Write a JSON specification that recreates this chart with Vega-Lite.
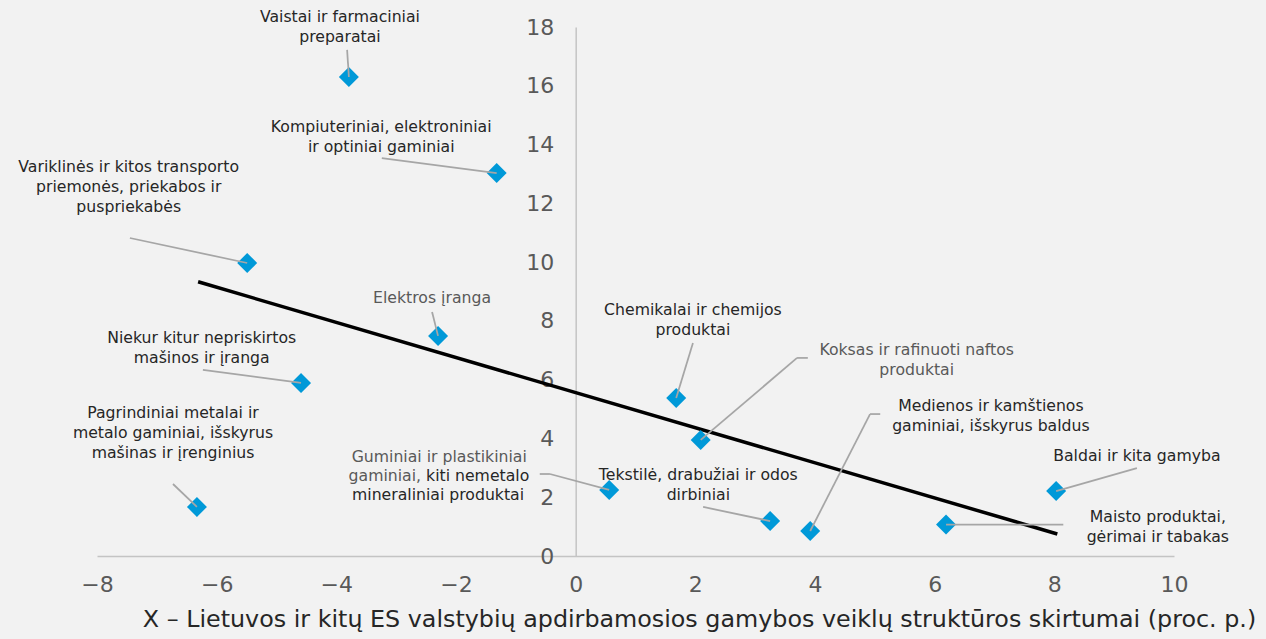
{
  "$schema": "https://vega.github.io/schema/vega-lite/v6.json",
  "width": 1077,
  "height": 529,
  "autosize": {"type": "none"},
  "padding": {"left": 97, "top": 27, "right": 92, "bottom": 83},
  "background": "#f2f2f2",
  "config": {"view": {"stroke": null}, "font": "DejaVu Sans"},
  "datasets": {
    "trend": [
      {"x": -6.31, "y": 9.33},
      {"x": 8.05, "y": 0.75}
    ],
    "points": [
      {"name": "Vaistai ir farmaciniai preparatai", "x": -3.79, "y": 16.30},
      {"name": "Kompiuteriniai, elektroniniai ir optiniai gaminiai", "x": -1.32, "y": 13.03},
      {"name": "Variklinės ir kitos transporto priemonės, priekabos ir puspriekabės", "x": -5.49, "y": 9.97},
      {"name": "Elektros įranga", "x": -2.30, "y": 7.49},
      {"name": "Niekur kitur nepriskirtos mašinos ir įranga", "x": -4.59, "y": 5.89},
      {"name": "Pagrindiniai metalai ir metalo gaminiai, išskyrus mašinas ir įrenginius", "x": -6.33, "y": 1.67},
      {"name": "Guminiai ir plastikiniai gaminiai, kiti nemetalo mineraliniai produktai", "x": 0.56, "y": 2.25},
      {"name": "Chemikalai ir chemijos produktai", "x": 1.68, "y": 5.38},
      {"name": "Koksas ir rafinuoti naftos produktai", "x": 2.09, "y": 3.95},
      {"name": "Tekstilė, drabužiai ir odos dirbiniai", "x": 3.25, "y": 1.19},
      {"name": "Medienos ir kamštienos gaminiai, išskyrus baldus", "x": 3.92, "y": 0.85},
      {"name": "Maisto produktai, gėrimai ir tabakas", "x": 6.19, "y": 1.07},
      {"name": "Baldai ir kita gamyba", "x": 8.03, "y": 2.21}
    ],
    "leaders": [
      {"x": -3.82, "y": 17.22, "x2": -3.79, "y2": 16.30},
      {"x": -3.24, "y": 13.54, "x2": -1.32, "y2": 13.03},
      {"x": -7.45, "y": 10.82, "x2": -5.49, "y2": 9.97},
      {"x": -6.23, "y": 6.33, "x2": -4.59, "y2": 5.89},
      {"x": -6.73, "y": 2.45, "x2": -6.33, "y2": 1.67},
      {"x": -2.40, "y": 8.30, "x2": -2.30, "y2": 7.49},
      {"x": 1.96, "y": 7.25, "x2": 1.68, "y2": 5.38},
      {"x": 2.09, "y": 3.95, "x2": 3.70, "y2": 6.74},
      {"x": 3.70, "y": 6.74, "x2": 3.88, "y2": 6.74},
      {"x": 3.92, "y": 0.85, "x2": 4.92, "y2": 4.83},
      {"x": 4.92, "y": 4.83, "x2": 5.09, "y2": 4.83},
      {"x": 2.13, "y": 1.67, "x2": 3.25, "y2": 1.19},
      {"x": -0.60, "y": 2.79, "x2": -0.43, "y2": 2.79},
      {"x": -0.43, "y": 2.79, "x2": 0.56, "y2": 2.25},
      {"x": 6.19, "y": 1.07, "x2": 8.15, "y2": 1.07},
      {"x": 9.38, "y": 2.99, "x2": 8.03, "y2": 2.21}
    ],
    "labels": [
      {"text": "Vaistai ir farmaciniai\npreparatai", "x": -3.94, "y": 18.34, "tone": "dark", "align": "center"},
      {"text": "Kompiuteriniai, elektroniniai\nir optiniai gaminiai", "x": -3.25, "y": 14.60, "tone": "dark", "align": "center"},
      {"text": "Variklinės  ir kitos transporto\npriemonės, priekabos ir\npuspriekabės", "x": -7.47, "y": 13.24, "tone": "dark", "align": "center"},
      {"text": "Elektros įranga", "x": -2.40, "y": 8.78, "tone": "gray", "align": "center"},
      {"text": "Niekur kitur nepriskirtos\nmašinos ir įranga", "x": -6.25, "y": 7.42, "tone": "dark", "align": "center"},
      {"text": "Pagrindiniai metalai ir\nmetalo gaminiai, išskyrus\nmašinas ir įrenginius", "x": -6.73, "y": 4.87, "tone": "dark", "align": "center"},
      {"text": "Chemikalai ir chemijos\nproduktai", "x": 1.96, "y": 8.37, "tone": "dark", "align": "center"},
      {"text": "Koksas ir rafinuoti naftos\nproduktai", "x": 5.70, "y": 7.01, "tone": "gray", "align": "center"},
      {"text": "Medienos ir kamštienos\ngaminiai, išskyrus baldus", "x": 6.94, "y": 5.10, "tone": "dark", "align": "center"},
      {"text": "Baldai ir kita gamyba", "x": 9.38, "y": 3.40, "tone": "dark", "align": "center"},
      {"text": "Maisto produktai,\ngėrimai ir tabakas", "x": 9.73, "y": 1.33, "tone": "dark", "align": "center"},
      {"text": "Tekstilė, drabužiai ir odos\ndirbiniai", "x": 2.05, "y": 2.76, "tone": "dark", "align": "center"},
      {"text": "Guminiai ir plastikiniai", "x": -2.28, "y": 3.37, "tone": "gray", "align": "center"},
      {"text": "gaminiai,", "x": -2.55, "y": 2.72, "tone": "gray", "align": "right"},
      {"text": "kiti nemetalo", "x": -2.55, "y": 2.72, "tone": "dark", "align": "left"},
      {"text": "mineraliniai produktai", "x": -2.30, "y": 2.08, "tone": "dark", "align": "center"}
    ]
  },
  "layer": [
    {
      "data": {"name": "trend"},
      "mark": {"type": "line", "color": "#000000", "strokeWidth": 3.5},
      "encoding": {
        "x": {
          "field": "x", "type": "quantitative",
          "scale": {"domain": [-8, 10], "nice": false, "zero": false},
          "axis": {
            "title": "X – Lietuvos ir kitų ES valstybių apdirbamosios gamybos veiklų struktūros skirtumai (proc. p.)",
            "values": [-8, -6, -4, -2, 0, 2, 4, 6, 8, 10],
            "format": "d",
            "grid": false, "ticks": false,
            "domainColor": "#c4c4c4", "domainWidth": 1.5,
            "labelFont": "DejaVu Sans", "labelFontSize": 22, "labelColor": "#595959",
            "labelPadding": 18, "labelOverlap": false, "labelFlush": false, "labelBound": false,
            "titleFont": "DejaVu Sans", "titleFontSize": 23.8, "titleFontWeight": "normal",
            "titleColor": "#262626", "titlePadding": 12, "titleX": 602
          }
        },
        "y": {
          "field": "y", "type": "quantitative",
          "scale": {"domain": [0, 18], "nice": false, "zero": false},
          "axis": {
            "title": null,
            "values": [0, 2, 4, 6, 8, 10, 12, 14, 16, 18],
            "format": "d",
            "grid": false, "ticks": false, "offset": -478.7,
            "domainColor": "#c4c4c4", "domainWidth": 1.5,
            "labelFont": "DejaVu Sans", "labelFontSize": 22, "labelColor": "#595959",
            "labelPadding": 22, "labelOverlap": false, "labelBound": false, "labelFlush": false
          }
        }
      }
    },
    {
      "data": {"name": "points"},
      "mark": {"type": "point", "shape": "diamond", "filled": true, "color": "#0099d8", "opacity": 1, "size": 400},
      "encoding": {
        "x": {"field": "x", "type": "quantitative"},
        "y": {"field": "y", "type": "quantitative"}
      }
    },
    {
      "data": {"name": "leaders"},
      "mark": {"type": "rule", "color": "#a6a6a6", "strokeWidth": 1.75},
      "encoding": {
        "x": {"field": "x", "type": "quantitative"},
        "y": {"field": "y", "type": "quantitative"},
        "x2": {"field": "x2"},
        "y2": {"field": "y2"}
      }
    },
    {
      "data": {"name": "labels"},
      "transform": [{"filter": "datum.align === 'center'"}],
      "mark": {"type": "text", "align": "center", "baseline": "middle", "fontSize": 15.7, "lineHeight": 20, "lineBreak": "\n", "font": "DejaVu Sans"},
      "encoding": {
        "x": {"field": "x", "type": "quantitative"},
        "y": {"field": "y", "type": "quantitative"},
        "text": {"field": "text"},
        "color": {"field": "tone", "type": "nominal", "scale": {"domain": ["dark", "gray"], "range": ["#262626", "#595959"]}, "legend": null}
      }
    },
    {
      "data": {"name": "labels"},
      "transform": [{"filter": "datum.align === 'right'"}],
      "mark": {"type": "text", "align": "right", "baseline": "middle", "fontSize": 15.7, "dx": -2, "font": "DejaVu Sans"},
      "encoding": {
        "x": {"field": "x", "type": "quantitative"},
        "y": {"field": "y", "type": "quantitative"},
        "text": {"field": "text"},
        "color": {"field": "tone", "type": "nominal", "legend": null}
      }
    },
    {
      "data": {"name": "labels"},
      "transform": [{"filter": "datum.align === 'left'"}],
      "mark": {"type": "text", "align": "left", "baseline": "middle", "fontSize": 15.7, "dx": 3, "font": "DejaVu Sans"},
      "encoding": {
        "x": {"field": "x", "type": "quantitative"},
        "y": {"field": "y", "type": "quantitative"},
        "text": {"field": "text"},
        "color": {"field": "tone", "type": "nominal", "legend": null}
      }
    }
  ]
}
